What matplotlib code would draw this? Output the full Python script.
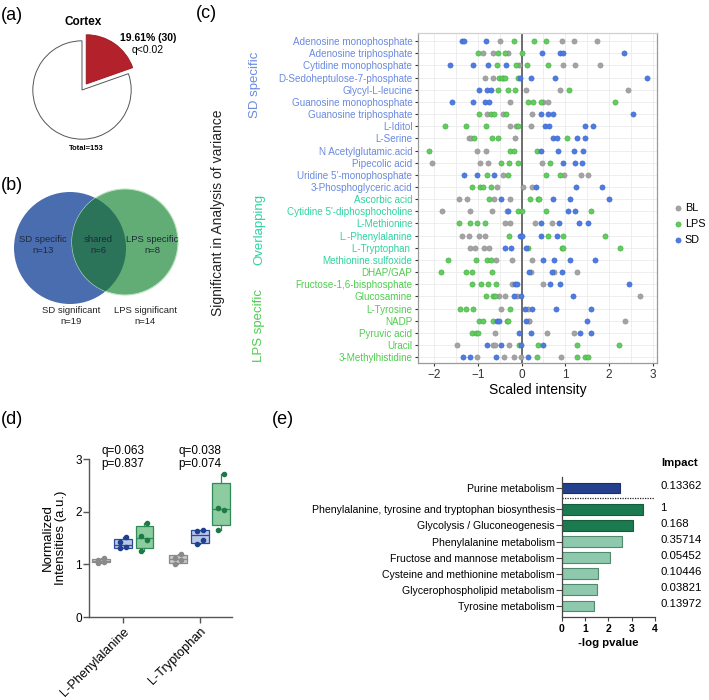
import matplotlib
matplotlib.use('Agg')
import matplotlib.pyplot as plt
import numpy as np
from matplotlib.patches import Circle

plt.rcParams['font.family'] = ['Liberation Sans', 'DejaVu Sans']

W, H = 709, 700

# ---- (a) pie
pie_counts = [30, 123]
pie_text = ['19.61% (30)', 'q<0.02', 'Total=153']

# ---- (b) venn
venn_inner = ['SD specific\nn=13', 'shared\nn=6', 'LPS specific\nn=8']
venn_outer = ['SD significant\nn=19', 'LPS significant\nn=14']

# ---- (c) dot plot
metabolites = ['Adenosine monophosphate', 'Adenosine triphosphate', 'Cytidine monophosphate',
               'D-Sedoheptulose-7-phosphate', 'Glycyl-L-leucine', 'Guanosine monophosphate',
               'Guanosine triphosphate', 'L-Iditol', 'L-Serine', 'N Acetylglutamic.acid',
               'Pipecolic acid', "Uridine 5'-monophosphate", '3-Phosphoglyceric.acid',
               'Ascorbic acid', "Cytidine 5'-diphosphocholine", 'L-Methionine', 'L.-Phenylalanine',
               'L-Tryptophan ', 'Methionine.sulfoxide',
               'DHAP/GAP', 'Fructose-1,6-bisphosphate', 'Glucosamine', 'L-Tyrosine', 'NADP',
               'Pyruvic acid', 'Uracil', '3-Methylhistidine']
groups = ['SD'] * 13 + ['OV'] * 6 + ['LPS'] * 8

bl_vals = [
    [-0.50, 0.92, 1.21, 1.73], [-0.89, -0.66, -0.31], [-0.06, 0.95, 1.22, 1.79],
    [-0.83, -0.66, -0.42], [0.10, 0.89, 2.44], [-0.27, 0.50, 0.61],
    [-0.79, -0.42, 0.24], [-0.27, -0.13, 0.21], [-1.20, -1.15, -0.15],
    [-1.01, -0.82], [-2.04, -0.96, -0.76, 0.47], [-0.43, 0.97, 1.37, 1.52],
    [-0.57, 0.03, 0.24], [-1.43, -1.24, -0.63, -0.27], [-1.83, -1.18, -0.68, -0.34],
    [-0.39, -0.26, 0.31, 0.70], [-1.37, -1.21, -0.98, -0.83], [-1.18, -1.07, -0.86, -0.75],
    [-0.58, -0.21, 0.24], [0.22, 0.75, 1.26], [-0.21, 0.50],
    [-0.52, -0.39, -0.10, 2.70], [-0.46, 0.15], [0.16, 0.18, 2.37],
    [-0.61, 0.59, 1.20], [-1.48, -0.66, -0.61, -0.29], [-1.01, -0.41, -0.17, -0.02, 0.91]]
lps_vals = [
    [-0.17, 0.29, 0.56], [-0.99, -0.53, -0.37, 0.01], [-0.57, -0.13, 0.12, 0.61],
    [-0.51, -0.45, -0.37, -0.08], [-0.53, -0.30, -0.15, 1.08], [0.15, 0.26, 0.45, 2.15],
    [-0.98, -0.69, -0.63, -0.36], [-1.75, -1.26, -0.82, -0.09], [-1.08, -0.67, -0.53, 1.05],
    [-2.11, -0.27, -0.18, 0.35], [-0.47, -0.29, -0.07, 0.64], [-0.78, -0.31, 0.56, 0.89],
    [-1.13, -0.96, -0.89, -0.71], [-0.75, 0.19, 0.37, 0.40], [-0.09, 0.02, 0.56, 1.60],
    [-1.43, -1.17, -1.03, -0.83], [-0.28, 0.60, 0.95, 1.92], [0.15, 0.93, 0.96, 2.26],
    [-1.69, -1.04, -0.79, -0.70], [-1.85, -1.27, -1.14, -0.67], [-1.13, -0.93, -0.76, -0.58],
    [-0.82, -0.65, -0.61], [-1.40, -1.27, -1.11, -0.27], [-0.98, -0.89, -0.66, -0.34, -0.31],
    [-1.14, -1.05, -0.99], [-0.06, 0.37, 1.28, 2.23], [0.36, 1.27, 1.45, 1.53]]
sd_vals = [
    [-1.37, -1.31, -0.82], [0.47, 0.87, 0.95, 2.34], [-1.63, -1.12, -0.77, -0.36],
    [-0.04, 0.22, 0.76, 2.86], [-0.97, -0.78, -0.71], [-1.60, -1.10, -0.84, -0.74],
    [0.44, 0.61, 0.73, 2.56], [0.54, 0.62, 1.45, 1.63], [0.73, 0.82, 1.26, 1.46],
    [0.45, 0.84, 1.21, 1.40], [0.96, 1.22, 1.38], [-1.31, -1.02, -0.63],
    [0.33, 1.25, 1.85], [-0.46, 0.71, 1.12, 1.99], [-0.30, 1.06, 1.22],
    [0.45, 0.85, 1.31, 1.51], [-0.03, 0.02, 0.44, 0.80], [-0.39, -0.24, 0.11],
    [0.50, 0.75, 1.12, 1.67], [0.17, 0.70, 0.92], [-0.15, -0.11, 0.64, 0.88, 2.46],
    [-0.18, -0.02, 1.18], [0.08, 0.24, 0.79, 1.60], [-0.56, -0.52, 0.10, 1.50],
    [-0.06, 0.21, 1.33, 1.60], [-0.79, -0.47, -0.01, 0.48], [-1.34, -1.18, -0.58, 0.15]]

# ---- (d) box plots
d_cats = ['L-Phenylalanine', 'L-Tryptophan']
d_bl = [[1.03, 1.05, 1.08, 1.12], [1.00, 1.08, 1.12, 1.20]]
d_sd = [[1.31, 1.33, 1.42, 1.51], [1.38, 1.47, 1.63, 1.66]]
d_lps = [[1.25, 1.46, 1.54, 1.78], [1.65, 2.04, 2.07, 2.71]]
d_stats = ['q=0.063\np=0.837', 'q=0.038\np=0.074']

# ---- (e) pathways
pathways = ['Purine metabolism', 'Phenylalanine, tyrosine and tryptophan biosynthesis',
            'Glycolysis / Gluconeogenesis', 'Phenylalanine metabolism',
            'Fructose and mannose metabolism', 'Cysteine and methionine metabolism',
            'Glycerophospholipid metabolism', 'Tyrosine metabolism']
logp = [2.50, 3.47, 3.05, 2.60, 2.09, 1.57, 1.50, 1.37]
impact = ['0.13362', '1', '0.168', '0.35714', '0.05452', '0.10446', '0.03821', '0.13972']


def fx(x):
    return x / W


def fy(y):
    return 1 - y / H


fig = plt.figure(figsize=(W / 100, H / 100), dpi=100)

# panel letters
for lab, x, y in [('(a)', 1, 16), ('(b)', 1, 185), ('(c)', 196, 14), ('(d)', 1, 420), ('(e)', 272, 420)]:
    fig.text(fx(x), fy(y), lab, fontsize=13, va='center', ha='left')

# ================= (a)
ax_a = fig.add_axes([fx(22), fy(150), 120 / W, 120 / H])
wedges, _ = ax_a.pie(pie_counts, colors=['#b3222a', 'white'], startangle=90, counterclock=False,
                     explode=[0.15, 0], wedgeprops=dict(linewidth=0.7, edgecolor='#555555'))
wedges[0].set_edgecolor('#9a1d22')
ax_a.set_xlim(-1.22, 1.22)
ax_a.set_ylim(-1.22, 1.22)
fig.text(fx(83), fy(22), 'Cortex', fontsize=8.5, fontweight='bold', ha='center', va='center')
fig.text(fx(120), fy(38), pie_text[0], fontsize=7.5, fontweight='bold', ha='left', va='center')
fig.text(fx(148), fy(50), pie_text[1], fontsize=7.5, ha='center', va='center')
fig.text(fx(86), fy(149), pie_text[2], fontsize=5.4, fontweight='bold', ha='center', va='center')

# ================= (b)
ax_b = fig.add_axes([0, fy(340), 200 / W, 170 / H])
ax_b.set_xlim(0, 200)
ax_b.set_ylim(340, 170)
ax_b.axis('off')
c_sd = Circle((70, 248), 56, facecolor='#4a6db0', edgecolor='none')
c_lps = Circle((125, 242), 53, facecolor='#62ad75', edgecolor='#b8e3bd', linewidth=0.8)
c_shared = Circle((125, 242), 53, facecolor='#2b745a', edgecolor='none')
ax_b.add_patch(c_sd)
ax_b.add_patch(c_lps)
ax_b.add_patch(c_shared)
c_shared.set_clip_path(c_sd)
for txt, x in zip(venn_inner, [43, 98, 152]):
    ax_b.text(x, 245, txt, fontsize=6.8, ha='center', va='center', color='#1d2a3a', linespacing=1.25)
for txt, x in zip(venn_outer, [71, 145]):
    ax_b.text(x, 316, txt, fontsize=6.8, ha='center', va='center', color='#222222', linespacing=1.25)

# ================= (c)
ax_c = fig.add_axes([fx(418), fy(363), (657 - 418) / W, (363 - 33) / H])
n = len(metabolites)
ypos = np.arange(n)
col_bl, col_lps, col_sd = '#a3a3a3', '#62cc5e', '#4d7be0'
for i in range(n):
    ax_c.scatter(bl_vals[i], [i] * len(bl_vals[i]), s=14, color=col_bl, edgecolors='#8f8f8f',
                 linewidths=0.4, zorder=3, label='BL' if i == 0 else None)
    ax_c.scatter(lps_vals[i], [i] * len(lps_vals[i]), s=14, color=col_lps, edgecolors='#3fae3f',
                 linewidths=0.4, zorder=3, label='LPS' if i == 0 else None)
    ax_c.scatter(sd_vals[i], [i] * len(sd_vals[i]), s=14, color=col_sd, edgecolors='#3a66cc',
                 linewidths=0.4, zorder=3, label='SD' if i == 0 else None)
ax_c.axvline(0, color='#555555', lw=1.2, zorder=2)
ax_c.set_xlim(-2.37, 3.1)
ax_c.set_ylim(n - 1 + 0.47, -0.66)
ax_c.set_xticks([-2, -1, 0, 1, 2, 3])
ax_c.set_xticklabels(['\u22122', '\u22121', '0', '1', '2', '3'])
ax_c.set_xticks(np.arange(-2, 3.01, 0.5), minor=True)
ax_c.set_yticks(ypos)
ax_c.set_yticklabels(metabolites, fontsize=7.1)
grp_col = {'SD': '#6a8ae0', 'OV': '#2fd3a0', 'LPS': '#4fcc4f'}
for lab, g in zip(ax_c.get_yticklabels(), groups):
    lab.set_color(grp_col[g])
ax_c.grid(True, which='both', color='#ebebeb', lw=0.6, zorder=0)
ax_c.set_axisbelow(True)
ax_c.tick_params(axis='y', length=2, width=0.8, color='#333333', pad=2)
ax_c.tick_params(axis='x', length=2, width=0.8, color='#333333', labelsize=8.5, pad=2, labelcolor='#333333')
ax_c.tick_params(axis='x', which='minor', length=0)
for sp in ax_c.spines.values():
    sp.set_color('#9a9a9a')
    sp.set_linewidth(0.9)
ax_c.spines['top'].set_color('#d0d0d0')
ax_c.set_xlabel('Scaled intensity', fontsize=10, labelpad=2)
fig.text(fx(218), fy(213), 'Significant in Analysis of variance', rotation=90, fontsize=10,
         ha='center', va='center', color='#222222')
fig.text(fx(255), fy(85), 'SD specific', rotation=90, fontsize=9.5, ha='center', va='center', color=grp_col['SD'])
fig.text(fx(259), fy(229), 'Overlapping', rotation=90, fontsize=9.5, ha='center', va='center', color=grp_col['OV'])
fig.text(fx(259), fy(326), 'LPS specific', rotation=90, fontsize=9.5, ha='center', va='center', color=grp_col['LPS'])
h, l = ax_c.get_legend_handles_labels()
fig.legend(h, l, loc='center left', bbox_to_anchor=(fx(673), fy(224)), frameon=False, fontsize=7.8,
           handletextpad=0.1, labelspacing=0.55, scatterpoints=1, borderaxespad=0, borderpad=0,
           handlelength=1.0)

# ================= (d)
ax_d = fig.add_axes([fx(89), fy(617), (232 - 89) / W, (617 - 459) / H])
styles = [(d_bl, -0.28, '#c9c9c9', '#8a8a8a', '#8a8a8a'),
          (d_sd, 0.0, '#b9c8e6', '#2b4b9b', '#1f3f90'),
          (d_lps, 0.28, '#8ccc9f', '#2e8a58', '#1d7a45')]
offs = [-0.04, 0.04, -0.04, 0.04]
for data, dx, face, edge, pcol in styles:
    stats = []
    for vals in data:
        q1, med, q3 = np.percentile(vals, [25, 50, 75], method='weibull')
        stats.append(dict(med=med, q1=q1, q3=q3, whislo=min(vals), whishi=max(vals), fliers=[]))
    pos = np.arange(len(data)) + dx
    ax_d.bxp(stats, positions=pos, widths=0.23, patch_artist=True, showfliers=False, showcaps=False,
             boxprops=dict(facecolor=face, edgecolor=edge, linewidth=0.9),
             medianprops=dict(color=edge, linewidth=0.9),
             whiskerprops=dict(color=edge, linewidth=0.9))
    for p, vals in zip(pos, data):
        ax_d.scatter(p + np.array(offs[:len(vals)]), sorted(vals), s=9, color=pcol, zorder=4)
ax_d.set_xlim(-0.44, 1.42)
ax_d.set_ylim(0, 3)
ax_d.set_yticks([0, 1, 2, 3])
ax_d.set_xticks([0, 1])
ax_d.set_xticklabels(d_cats, rotation=45, ha='right', rotation_mode='anchor', fontsize=9.2)
ax_d.tick_params(axis='y', labelsize=8.5, length=4, width=1, color='#555555', pad=1)
ax_d.tick_params(axis='x', length=4, width=1, color='#555555', pad=2)
for sp in ['top', 'right']:
    ax_d.spines[sp].set_visible(False)
for sp in ['left', 'bottom']:
    ax_d.spines[sp].set_color('#555555')
    ax_d.spines[sp].set_linewidth(1)
ax_d.set_ylabel('Normalized\nIntensities (a.u.)', fontsize=9.5, labelpad=6, linespacing=1.1)
for i, s in enumerate(d_stats):
    ax_d.text(i, 3.03, s, fontsize=8.5, ha='center', va='center', linespacing=1.2, clip_on=False)

# ================= (e)
ax_e = fig.add_axes([fx(561.7), fy(617.3), (655 - 561.7) / W, (617.3 - 476.7) / H])
bar_pos = np.array([0, 1.35, 2.35, 3.35, 4.35, 5.35, 6.35, 7.35])
bar_face = ['#243f8c', '#1c7a50', '#1c7a50'] + ['#8ec8ad'] * 5
bar_edge = ['#1a2f6a', '#135c3c', '#135c3c'] + ['#4f8a6d'] * 5
ax_e.barh(bar_pos, logp, height=0.65, color=bar_face, edgecolor=bar_edge, linewidth=0.8)
ax_e.axhline(0.66, color='#222222', lw=0.9, ls=(0, (1, 1)))
ax_e.set_xlim(0, 4)
ax_e.set_ylim(bar_pos[-1] + 0.72, -0.69)
ax_e.set_yticks(bar_pos)
ax_e.set_yticklabels(pathways, fontsize=7.6)
ax_e.set_xticks([0, 1, 2, 3, 4])
ax_e.tick_params(axis='y', length=4, width=0.8, color='#444444', pad=1)
ax_e.tick_params(axis='x', length=3, width=0.8, color='#444444', labelsize=7.5, pad=2)
for lab in ax_e.get_xticklabels():
    lab.set_fontweight('bold')
for sp in ['top', 'right']:
    ax_e.spines[sp].set_visible(False)
for sp in ['left', 'bottom']:
    ax_e.spines[sp].set_color('#444444')
    ax_e.spines[sp].set_linewidth(0.9)
ax_e.set_xlabel('-log pvalue', fontsize=8.2, fontweight='bold', labelpad=3)
ax_e.text(5.07, -1.54, 'Impact', fontsize=8.2, fontweight='bold', ha='center', va='center', clip_on=False)
for p, s in zip(bar_pos, impact):
    ax_e.text(4.22, p - 0.1, s, fontsize=8.2, ha='left', va='center', clip_on=False)

fig.savefig('out.png', dpi=100)
